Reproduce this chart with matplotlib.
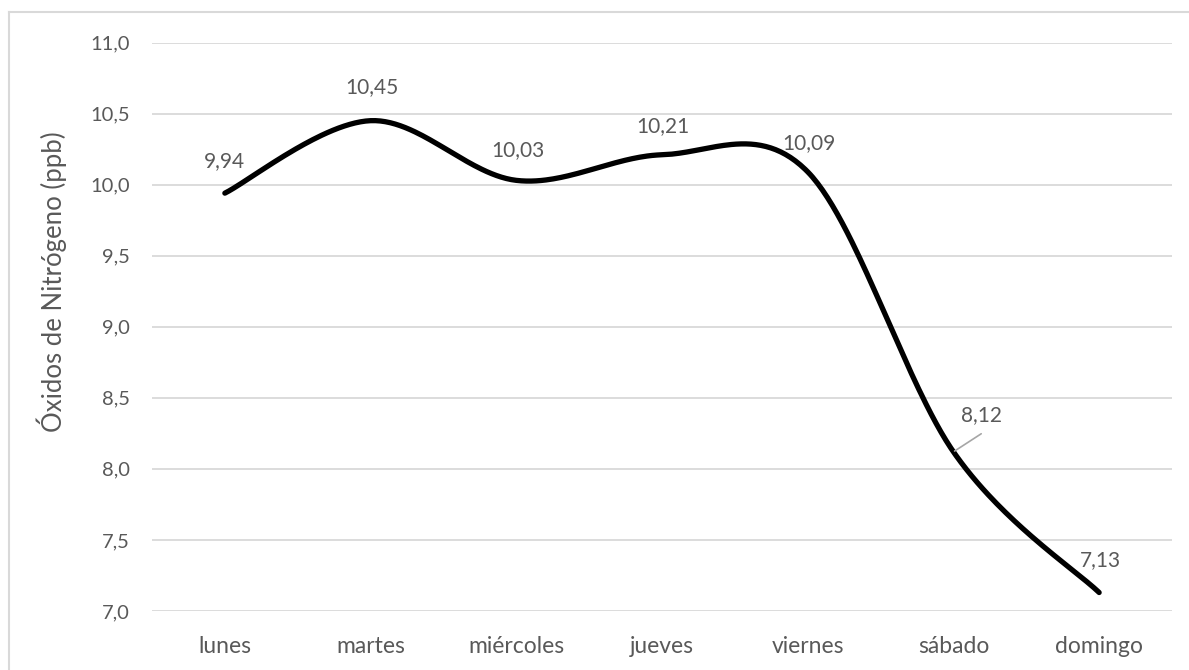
import matplotlib.pyplot as plt
from matplotlib.lines import Line2D
import numpy as np

# Data
dias = ['lunes', 'martes', 'miércoles', 'jueves', 'viernes', 'sábado', 'domingo']
nox = [9.94, 10.45, 10.03, 10.21, 10.09, 8.12, 7.13]
etiquetas = ['9,94', '10,45', '10,03', '10,21', '10,09', '8,12', '7,13']
yticks = [7.0, 7.5, 8.0, 8.5, 9.0, 9.5, 10.0, 10.5, 11.0]


# Excel-like smoothed line (Catmull-Rom Bezier through the points)
def smooth(x, y, n=60):
    x = np.asarray(x, float)
    y = np.asarray(y, float)
    px = np.concatenate([[x[0]], x, [x[-1]]])
    py = np.concatenate([[y[0]], y, [y[-1]]])
    xs, ys = [], []
    t = np.linspace(0, 1, n)
    for i in range(len(x) - 1):
        p0 = np.array([px[i + 1], py[i + 1]])
        p3 = np.array([px[i + 2], py[i + 2]])
        c1 = p0 + (p3 - np.array([px[i], py[i]])) / 6
        c2 = p3 - (np.array([px[i + 3], py[i + 3]]) - p0) / 6
        b = ((1 - t) ** 3)[:, None] * p0 + (3 * (1 - t) ** 2 * t)[:, None] * c1 \
            + (3 * (1 - t) * t ** 2)[:, None] * c2 + (t ** 3)[:, None] * p3
        xs.append(b[:, 0])
        ys.append(b[:, 1])
    return np.concatenate(xs), np.concatenate(ys)


plt.rcParams['font.family'] = ['Lato', 'DejaVu Sans']
gris = '#595959'

fig = plt.figure(figsize=(11.89, 6.70), dpi=100)
ax = fig.add_axes([152 / 1189, 1 - 611 / 670, 1020 / 1189, 568.5 / 670])

x = np.arange(len(dias))
sx, sy = smooth(x, nox)
ax.plot(sx, sy, color='black', lw=3.8, solid_capstyle='round', zorder=3)

# data labels (offsets in points)
offsets = [(0, 23), (1, 24), (1, 22), (1, 21), (1, 21), (20, 26.5), (1, 23)]
for i, (v, lab) in enumerate(zip(nox, etiquetas)):
    ax.annotate(lab, (i, v), xytext=offsets[i], textcoords='offset points',
                ha='center', va='center', fontsize=15, color=gris, zorder=4)

# leader line for sábado label
ax.annotate('', (5, nox[5]), xytext=(20, 13), textcoords='offset points',
            arrowprops=dict(arrowstyle='-', color='#a6a6a6', lw=1.2, shrinkA=0, shrinkB=1))

ax.set_xlim(-0.5, len(dias) - 0.5)
ax.set_ylim(7.0, 11.0)
ax.set_yticks(yticks)
ax.set_yticklabels([f'{t:.1f}'.replace('.', ',') for t in yticks])
ax.set_xticks(x)
ax.set_xticklabels(dias)
ax.tick_params(axis='both', length=0, labelcolor=gris)
ax.tick_params(axis='y', pad=16, labelsize=14.5)
ax.tick_params(axis='x', pad=18, labelsize=16.5)
ax.grid(axis='y', color='#d9d9d9', lw=1.3)
ax.set_axisbelow(True)
for s in ax.spines.values():
    s.set_visible(False)

fig.text(52 / 1189, 1 - 282 / 670, 'Óxidos de Nitrógeno (ppb)', rotation=90,
         ha='center', va='center', fontsize=18.5, color=gris)

# chart border
fig.add_artist(Line2D([9 / 1189, 9 / 1189], [0, 1 - 12 / 670], color='#d9d9d9', lw=1.5))
fig.add_artist(Line2D([9 / 1189, 1], [1 - 12 / 670, 1 - 12 / 670], color='#d9d9d9', lw=1.5))

fig.savefig('out.png', dpi=100)
